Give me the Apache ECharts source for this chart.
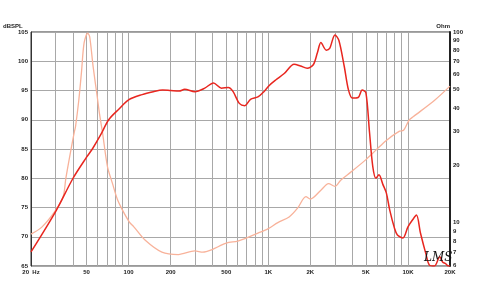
<!DOCTYPE html>
<html>
<head>
<meta charset="utf-8">
<script src="https://cdn.jsdelivr.net/npm/echarts@6/dist/echarts.min.js"></script>
<style>html,body{margin:0;padding:0;background:#fff;}#c{width:478px;height:290px;}</style>
</head>
<body>
<div id="c"></div>
<script>
// ---- data ----
const splFreq = [20,30,40,50,55,63,72,85,100,125,150,175,200,230,252,298,351,405,462,517,560,620,680,746,843,930,1020,1130,1300,1530,1700,1900,2100,2250,2380,2600,2750,3000,3200,3500,3750,4000,4400,4700,5000,5300,5600,5900,6200,6600,7000,7400,8000,8400,9200,10000,10800,11500,12300,13500,14200,15500,16900,17700,18600,19500,20000];
const splDb = [67.4,74.3,80.0,83.6,85.0,87.4,90.0,91.8,93.4,94.3,94.8,95.1,95.0,94.9,95.2,94.8,95.4,96.3,95.4,95.5,94.8,92.8,92.4,93.5,93.9,94.8,95.9,96.8,97.9,99.5,99.2,98.8,99.4,101.5,103.2,101.9,102.2,104.5,103.6,99.1,95.1,93.7,93.8,95.1,94.6,88.0,82.0,80.0,80.6,79.0,77.5,74.6,71.5,70.3,69.8,71.7,72.9,73.7,70.6,66.9,65.2,65.0,66.6,65.7,65.4,65.0,65.0];
const zFreq = [20,24,30,34,35.5,38.6,40.9,41.7,44,46,48,50.9,52.6,55.7,59.9,61.8,65.1,70.6,76.5,82.9,90,101,109,131,173,227,298,340,392,500,605,695,843,1000,1170,1410,1620,1860,2000,2380,2700,3000,3300,3900,5000,5900,7000,8700,9300,10200,10900,15600,20000];
const zOhm = [8.7,9.5,11.6,13.7,17.0,24.0,30.0,32.0,44.0,62.0,87.6,98.5,94.5,65.8,44.5,37.4,29.5,19.6,16.1,13.3,11.7,10.1,9.5,8.1,7.0,6.8,7.1,7.0,7.2,7.8,8.0,8.3,8.8,9.3,10.0,10.7,11.9,13.7,13.3,14.8,16.0,15.5,16.7,18.4,21.4,24.0,27.0,30.2,30.5,34.5,35.9,44.0,52.0];
const xGridFreqs = [20,30,40,50,60,70,80,90,100,200,300,400,500,600,700,800,900,1000,2000,3000,4000,5000,6000,7000,8000,9000,10000,20000];
const xLabelFreqs = [20,50,100,200,500,1000,2000,5000,10000,20000];
const xLabelText = {20:'20  Hz',50:'50',100:'100',200:'200',500:'500',1000:'1K',2000:'2K',5000:'5K',10000:'10K',20000:'20K'};
const ohmTicks = [6,7,8,9,10,20,30,40,50,60,70,80,90,100];
const dbTicks = [65,70,75,80,85,90,95,100,105];

const L = Math.log10;
const chart = echarts.init(document.getElementById('c'), null, {renderer:'canvas'});
const lblStyle = {fontSize:6, color:'#222', fontFamily:'Liberation Sans, Arial, sans-serif', fontWeight:'bold'};
chart.setOption({
  animation:false,
  backgroundColor:'#fff',
  grid:{left:28,right:28,top:32,bottom:24,show:true,borderColor:'#333',borderWidth:1,backgroundColor:'transparent'},
  xAxis:{
    type:'value', min:L(20), max:L(20000),
    axisLine:{show:false},
    axisTick:{show:false, customValues:xGridFreqs.map(L)},
    splitLine:{show:true, lineStyle:{color:'#a8a8a8',width:1}},
    axisLabel:{customValues:xLabelFreqs.map(L), margin:3, ...lblStyle,
      formatter:v=>{const f=Math.round(Math.pow(10,v)); return xLabelText[f]||'';}}
  },
  yAxis:[{
    type:'value', min:65, max:105, interval:5,
    name:'dBSPL', nameLocation:'end', nameGap:3,
    nameTextStyle:{align:'left', fontSize:6, color:'#222', fontWeight:'bold', fontFamily:'Liberation Sans, Arial, sans-serif', padding:[0,0,0,-28]},
    axisLine:{show:true, lineStyle:{color:'#333',width:1}},
    axisTick:{show:false},
    splitLine:{show:true, lineStyle:{color:'#a8a8a8',width:1}},
    axisLabel:{margin:3, ...lblStyle}
  },{
    type:'value', min:L(5.92), max:2, position:'right',
    name:'Ohm', nameLocation:'end', nameGap:3,
    nameTextStyle:{align:'right', fontSize:6, color:'#222', fontWeight:'bold', fontFamily:'Liberation Sans, Arial, sans-serif'},
    axisLine:{show:true, lineStyle:{color:'#222',width:2}},
    axisTick:{show:false, customValues:ohmTicks.map(L)},
    splitLine:{show:false},
    axisLabel:{customValues:ohmTicks.map(L), margin:3, ...lblStyle,
      formatter:v=>String(Math.round(Math.pow(10,v)))}
  }],
  series:[{
    type:'line', yAxisIndex:1, showSymbol:false, smooth:0.3,
    lineStyle:{color:'#f8b29a', width:1.3},
    data:zFreq.map((f,i)=>[L(f), L(zOhm[i])]), z:2
  },{
    type:'line', yAxisIndex:0, showSymbol:false, smooth:0.3,
    lineStyle:{color:'#e8261f', width:1.5},
    data:splFreq.map((f,i)=>[L(f), splDb[i]]), z:3
  }],
  graphic:[{type:'text', left:424, top:252, z:10,
    style:{text:'LMS', fontSize:12, fontStyle:'italic', fontFamily:'DejaVu Serif, serif', fill:'#111'}}]
});
</script>
</body>
</html>
